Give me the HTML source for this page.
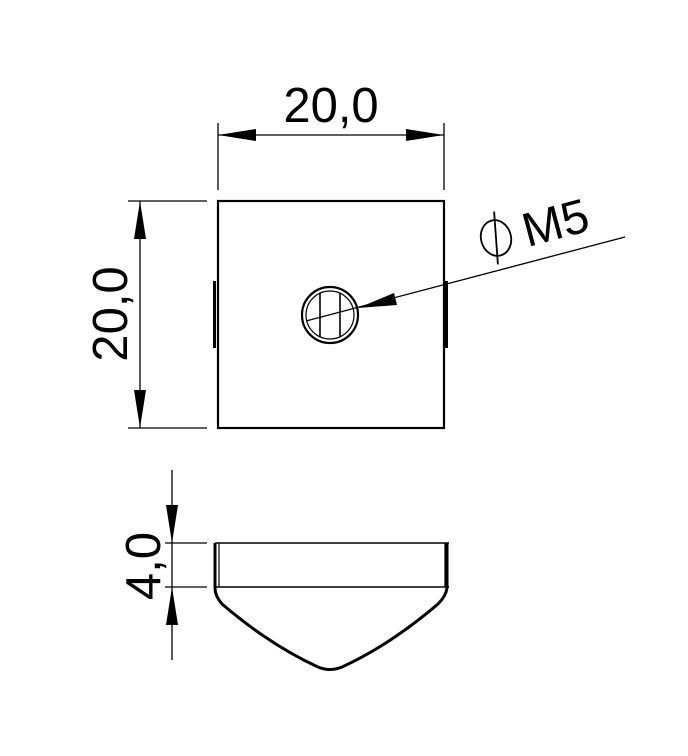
<!DOCTYPE html>
<html><head><meta charset="utf-8"><style>html,body{margin:0;padding:0;background:#fff}</style></head>
<body>
<svg width="688" height="751" viewBox="0 0 688 751" xmlns="http://www.w3.org/2000/svg" font-family="Liberation Sans, sans-serif">
<rect width="688" height="751" fill="#fff"/>
<!-- top view square -->
<rect x="218" y="201" width="226" height="227" fill="none" stroke="#000" stroke-width="2.2"/>
<rect x="213" y="281" width="3" height="67" fill="#000"/>
<rect x="444" y="281" width="4" height="67" fill="#000"/>
<!-- top dimension -->
<g stroke="#000" stroke-width="1.3">
<line x1="218" y1="123" x2="218" y2="190"/>
<line x1="444" y1="123" x2="444" y2="190"/>
<line x1="218" y1="135" x2="444" y2="135"/>
<line x1="128" y1="201" x2="207" y2="201"/>
<line x1="128" y1="428" x2="207" y2="428"/>
<line x1="140" y1="201" x2="140" y2="428"/>
</g>
<polygon points="218,135 256,129 256,141" fill="#000"/>
<polygon points="444,135 406,129 406,141" fill="#000"/>
<polygon points="140,201 134,239 146,239" fill="#000"/>
<polygon points="140,428 134,390 146,390" fill="#000"/>
<text x="331" y="122" font-size="49" text-anchor="middle">20,0</text>
<text transform="translate(127,314) rotate(-90)" font-size="49" text-anchor="middle">20,0</text>
<!-- hole -->
<circle cx="330" cy="315" r="28" fill="none" stroke="#000" stroke-width="2.2"/>
<circle cx="330" cy="315" r="24" fill="none" stroke="#000" stroke-width="1.2"/>
<line x1="320" y1="293" x2="320" y2="337" stroke="#000" stroke-width="1.6"/>
<line x1="340" y1="293" x2="340" y2="337" stroke="#000" stroke-width="1.6"/>
<line x1="306" y1="321" x2="625" y2="237" stroke="#000" stroke-width="1.3"/>
<polygon points="358,308 394,293 397,305" fill="#000"/>
<g transform="translate(496,238) rotate(-15)">
<ellipse cx="0" cy="0" rx="15" ry="18" fill="none" stroke="#000" stroke-width="1.8"/>
<line x1="5" y1="-26" x2="-5" y2="26" stroke="#000" stroke-width="1.8"/>
<text x="28" y="17" font-size="48">M5</text>
</g>
<!-- bottom view -->
<g fill="none" stroke="#000">
<line x1="215" y1="543" x2="449" y2="543" stroke-width="1.5"/>
<line x1="215" y1="587" x2="449" y2="587" stroke-width="1.5"/>
<path d="M215,543 V588 Q215,596 222,604 Q270,645 318,667 Q330,672 342,667 Q390,645 438,604 Q446,596 447,588 V543" stroke-width="3"/>
<line x1="219" y1="543" x2="219" y2="587" stroke-width="1.2"/>
<line x1="445" y1="543" x2="445" y2="587" stroke-width="1.2"/>
</g>
<g stroke="#000" stroke-width="1.3">
<line x1="172" y1="470" x2="172" y2="660"/>
<line x1="165" y1="543" x2="207" y2="543"/>
<line x1="165" y1="587" x2="207" y2="587"/>
</g>
<polygon points="172,543 166,505 178,505" fill="#000"/>
<polygon points="172,587 166,625 178,625" fill="#000"/>
<text transform="translate(160,566) rotate(-90)" font-size="49" text-anchor="middle">4,0</text>
</svg>
</body></html>
